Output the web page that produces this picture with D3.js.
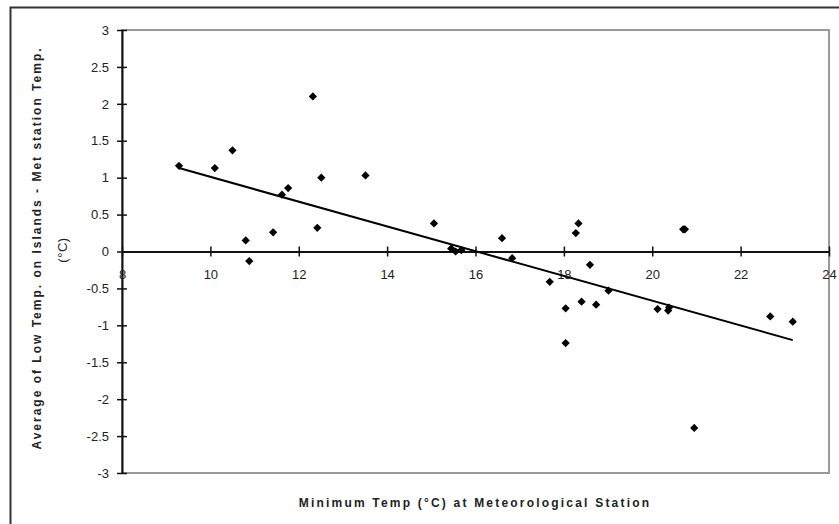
<!DOCTYPE html>
<html>
<head>
<meta charset="utf-8">
<script src="https://cdn.jsdelivr.net/npm/d3@7"></script>
<style>
  body { margin: 0; background: #fff; }
  svg { display: block; font-family: "Liberation Sans", Arial, sans-serif; }
</style>
</head>
<body>
<div id="chart"></div>
<script>
// Minimum temp at met station (x) vs island low temp difference (y)
var stationTemp = [9.29, 10.1, 10.5, 10.8, 10.88, 11.42, 11.62, 11.76, 12.32, 12.42,
    12.51, 13.51, 15.06, 15.45, 15.55, 15.68, 16.6, 16.83, 17.68, 18.04,
    18.04, 18.27, 18.33, 18.4, 18.59, 18.73, 19.01, 20.12, 20.36, 20.38,
    20.7, 20.74, 20.95, 22.67, 23.18];
var tempDiff = [1.16, 1.13, 1.37, 0.15, -0.13, 0.26, 0.77, 0.86, 2.1, 0.32,
    1.0, 1.03, 0.38, 0.04, 0.0, 0.02, 0.18, -0.09, -0.41, -0.77,
    -1.24, 0.25, 0.38, -0.68, -0.18, -0.72, -0.53, -0.78, -0.8, -0.76,
    0.3, 0.3, -2.39, -0.88, -0.95];

// linear trend line end points
var trendX = [9.29, 23.18];
var trendY = [1.13, -1.2];

var xTicks = [8, 10, 12, 14, 16, 18, 20, 22, 24];
var yTicks = [3, 2.5, 2, 1.5, 1, 0.5, 0, -0.5, -1, -1.5, -2, -2.5, -3];

var W = 839, H = 524;
var plot = {left: 122, right: 829, top: 30, bottom: 473};

var svg = d3.select("#chart")
    .append("svg")
        .attr("width", W)
        .attr("height", H);

// outer chart frame (only top and left edges visible)
svg.append("path")
    .attr("d", "M10.5," + H + "V7.5H" + W)
    .attr("fill", "none")
    .attr("stroke", "#333")
    .attr("stroke-width", 2);

var xScale = d3.scaleLinear()
    .domain([8, 24])
    .range([plot.left, plot.right]);

var yScale = d3.scaleLinear()
    .domain([-3, 3])
    .range([plot.bottom, plot.top]);

// plot area border
svg.append("rect")
    .attr("x", plot.left)
    .attr("y", plot.top)
    .attr("width", plot.right - plot.left)
    .attr("height", plot.bottom - plot.top)
    .attr("fill", "none")
    .attr("stroke", "#999")
    .attr("stroke-width", 2);

// y axis at x = 8
var yAxis = svg.append("g")
    .attr("transform", "translate(" + plot.left + ",0)")
    .call(d3.axisLeft(yScale).tickValues(yTicks).tickSize(5).tickSizeOuter(0)
        .tickFormat(function(d) { return String(d); }));
yAxis.select(".domain").attr("stroke", "#111").attr("stroke-width", 2);
yAxis.selectAll(".tick line").attr("x2", 5).attr("x1", -5).attr("stroke", "#111").attr("stroke-width", 1.5);
yAxis.selectAll(".tick text")
    .attr("x", -13)
    .attr("font-size", "13px")
    .attr("fill", "#222")
    .attr("font-family", "Liberation Sans, Arial, sans-serif");

// x axis crosses at y = 0
var xAxis = svg.append("g")
    .attr("transform", "translate(0," + yScale(0) + ")")
    .call(d3.axisBottom(xScale).tickValues(xTicks).tickSize(5).tickSizeOuter(0));
xAxis.select(".domain").attr("stroke", "#111").attr("stroke-width", 2);
xAxis.selectAll(".tick line").attr("y1", -5).attr("y2", 5).attr("stroke", "#111").attr("stroke-width", 1.5);
xAxis.selectAll(".tick text")
    .attr("y", 18)
    .attr("font-size", "13px")
    .attr("fill", "#222")
    .attr("font-family", "Liberation Sans, Arial, sans-serif");

// trend line
svg.append("line")
    .attr("x1", xScale(trendX[0]))
    .attr("y1", yScale(trendY[0]))
    .attr("x2", xScale(trendX[1]))
    .attr("y2", yScale(trendY[1]))
    .attr("stroke", "#000")
    .attr("stroke-width", 2);

// diamond markers
var points = stationTemp.map(function(d, i) { return {x: d, y: tempDiff[i]}; });
svg.append("g")
    .selectAll("path")
    .data(points)
    .enter()
    .append("path")
        .attr("d", d3.symbol().type(d3.symbolSquare).size(34))
        .attr("transform", function(d) {
            return "translate(" + xScale(d.x) + "," + yScale(d.y) + ") rotate(45)";
        })
        .attr("fill", "#000");

// axis titles
svg.append("text")
    .attr("x", 475)
    .attr("y", 507)
    .attr("text-anchor", "middle")
    .attr("font-size", "12px")
    .attr("font-weight", "bold")
    .attr("letter-spacing", "2.2px")
    .attr("fill", "#222")
    .text("Minimum Temp (°C) at Meteorological Station");

var yTitle = svg.append("text")
    .attr("transform", "translate(0,248) rotate(-90)")
    .attr("text-anchor", "middle")
    .attr("font-size", "12px")
    .attr("font-weight", "bold")
    .attr("letter-spacing", "2px")
    .attr("fill", "#222");
yTitle.append("tspan")
    .attr("x", 0)
    .attr("y", 41)
    .text("Average of Low Temp. on Islands - Met station Temp.");
yTitle.append("tspan")
    .attr("x", -2)
    .attr("y", 67)
    .attr("letter-spacing", "0.5px")
    .attr("font-weight", "normal")
    .attr("font-size", "13px")
    .text("(°C)");
</script>
</body>
</html>
